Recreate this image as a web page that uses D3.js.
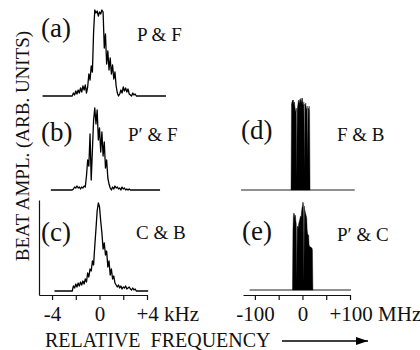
<!DOCTYPE html>
<html>
<head>
<meta charset="utf-8">
<script src="https://cdn.jsdelivr.net/npm/d3@7"></script>
<style>
  body { margin: 0; background: #fff; }
  .axis path, .axis line { stroke: #111; stroke-width: 1.2; }
</style>
</head>
<body>
<div id="chart"></div>
<script>
// Beat spectra, amplitude in arb. units (peak ~ 90)

// kHz traces (a)-(c): samples every 0.1 kHz starting at -2.3 kHz
const kHzStart = -2.3;
const kHzStep = 0.1;
const ampA = [0, 3, 1, 5, 2, 6, 3, 8, 4, 10, 6, 11, 3, 9, 22, 16, 30, 24, 64, 86,
  83, 85, 80, 84, 82, 86, 84, 48, 62, 32, 45, 26, 38, 22, 31, 17, 24, 10, 3, 0,
  2, 6, 3, 9, 5, 8, 4, 7, 2, 1, 0, 3, 1, 2, 0, 0];
const ampB = [0, 1, 3, 2, 4, 2, 3, 1, 3, 2, 4, 3, 14, 30, 24, 56, 10, 40, 70, 82,
  66, 80, 50, 62, 38, 58, 34, 48, 22, 30, 12, 6, 2, 0, 3, 1, 4, 2, 3, 1,
  2, 0, 3, 1, 2, 0, 1, 0, 1, 0, 0, 0, 0];
const ampC = [0, 5, 3, 7, 4, 8, 5, 9, 6, 10, 7, 12, 9, 18, 14, 22, 20, 30, 26, 45,
  62, 80, 88, 84, 70, 58, 42, 48, 36, 40, 24, 30, 16, 22, 12, 15, 8, 6, 4, 6,
  3, 5, 2, 4, 3, 5, 2, 3, 4, 2, 1, 3, 1, 2, 0];
// flat baseline extent of each trace (kHz)
const spanA = [-4.8, 5.6];
const spanB = [-4.1, 5.1];
const spanC = [-3.8, 4.1];

// MHz traces (d), (e): samples every 1 MHz
const mhzStep = 1;
const mhzStartD = -24;
const ampD = [0, 86, 88, 90, 89, 90, 86, 88, 84, 80, 78, 82, 12, 80, 84, 88, 90, 86, 89, 91,
  88, 92, 87, 90, 92, 86, 84, 88, 20, 86, 84, 87, 82, 80, 84, 30, 82, 80, 84, 78, 0];
const mhzStartE = -21;
const ampE = [0, 60, 74, 77, 76, 72, 75, 70, 66, 10, 62, 64, 62, 66, 68, 70, 72, 74, 72, 78,
  82, 84, 88, 86, 8, 84, 80, 78, 76, 74, 72, 60, 56, 55, 55, 45, 44, 43, 43, 43,
  42, 42, 40, 0];
const spanD = [-129, 110];
const spanE = [-111, 102];

const kHzTicks = [-4, -2, 0, 2, 4];
const kHzLabels = { "-4": "-4", "0": "0", "4": "+4 kHz" };
const mhzTicks = [-100, -50, 0, 50, 100];
const mhzLabels = { "-100": "-100", "0": "0", "100": "+100 MHz" };

const panels = [
  { id: "(a)", name: "P & F", amp: ampA, span: spanA, unit: "k", base: 96, lx: 41, ly: 37, nx: 137, ny: 41 },
  { id: "(b)", name: "P\u2032 & F", amp: ampB, span: spanB, unit: "k", base: 190, lx: 41, ly: 141, nx: 128, ny: 141 },
  { id: "(c)", name: "C & B", amp: ampC, span: spanC, unit: "k", base: 291, lx: 41, ly: 241, nx: 136, ny: 239 },
  { id: "(d)", name: "F & B", amp: ampD, span: spanD, unit: "M", start: mhzStartD, base: 190, lx: 241, ly: 139, nx: 337, ny: 141 },
  { id: "(e)", name: "P\u2032 & C", amp: ampE, span: spanE, unit: "M", start: mhzStartE, base: 290, lx: 242, ly: 240, nx: 337, ny: 241 }
];

const width = 420, height = 350;
const serif = "'Liberation Serif', 'Times New Roman', serif";

const svg = d3.select("#chart")
  .append("svg")
  .attr("width", width)
  .attr("height", height);

// all text in a Times-like face
function label(sel, size) {
  return sel.style("font-family", serif).style("font-size", size + "px").style("fill", "#111");
}

// Scales
const xk = d3.scaleLinear().domain([-5.1, 4]).range([39, 147]);
const xm = d3.scaleLinear().domain([-125, 100]).range([243, 350]);

panels.forEach(p => {
  const y = d3.scaleLinear().domain([0, 100]).range([p.base, p.base - 100]);
  if (p.unit === "k") {
    const pts = [[p.span[0], 0]];
    p.amp.forEach((v, i) => pts.push([kHzStart + i * kHzStep, v]));
    pts.push([p.span[1], 0]);
    svg.append("path")
      .datum(pts)
      .attr("fill", "none")
      .attr("stroke", "#000")
      .attr("stroke-width", 1.3)
      .attr("stroke-linejoin", "round")
      .attr("d", d3.line().x(d => xk(d[0])).y(d => y(d[1])));
  } else {
    const pts = p.amp.map((v, i) => [p.start + i * mhzStep, v]);
    // baseline
    svg.append("path")
      .datum(p.span)
      .attr("fill", "none")
      .attr("stroke", "#222")
      .attr("stroke-width", 1.2)
      .attr("d", d3.line().x(d => xm(d)).y(() => y(0)));
    svg.append("path")
      .datum(pts)
      .attr("fill", "#000")
      .attr("stroke", "#000")
      .attr("stroke-width", 0.4)
      .attr("d", d3.area().x(d => xm(d[0])).y0(y(0)).y1(d => y(d[1])));
  }

  label(svg.append("text"), 27)
    .attr("x", p.lx)
    .attr("y", p.ly)
    .text(p.id);

  label(svg.append("text"), 19)
    .attr("x", p.nx)
    .attr("y", p.ny)
    .text(p.name);
});

// Axes
const axK = svg.append("g")
  .attr("class", "axis")
  .attr("transform", "translate(0,295)")
  .call(d3.axisBottom(xk).tickValues(kHzTicks).tickSize(5).tickSizeOuter(0)
    .tickFormat(d => kHzLabels[d] || ""));

const axM = svg.append("g")
  .attr("class", "axis")
  .attr("transform", "translate(0,295)")
  .call(d3.axisBottom(xm).tickValues(mhzTicks).tickSize(5).tickSizeOuter(0)
    .tickFormat(d => mhzLabels[d] || ""));

[axK, axM].forEach(ax => {
  label(ax.selectAll("text"), 21).attr("dy", "0.85em");
  // keep the number centred on its tick, unit text trailing
  ax.selectAll("text").filter(function () { return this.textContent.indexOf("Hz") >= 0; })
    .attr("text-anchor", "start")
    .attr("dx", function () { return this.textContent.startsWith("+100") ? "-21px" : "-11px"; });
});

svg.append("g")
  .attr("class", "axis")
  .attr("transform", "translate(39,0)")
  .call(d3.axisLeft(d3.scaleLinear().domain([0, 1]).range([295, 200])).tickValues([]).tickSizeOuter(0));

// Axis titles
label(svg.append("text"), 19)
  .attr("transform", "translate(29,146) rotate(-90)")
  .attr("text-anchor", "middle")
  .text("BEAT AMPL. (ARB. UNITS)");

label(svg.append("text"), 20)
  .attr("x", 45)
  .attr("y", 347)
  .style("white-space", "pre")
  .text("RELATIVE  FREQUENCY");

svg.append("defs").append("marker")
  .attr("id", "arrow")
  .attr("viewBox", "0 0 12 8")
  .attr("refX", 12)
  .attr("refY", 4)
  .attr("markerWidth", 12)
  .attr("markerHeight", 8)
  .attr("markerUnits", "userSpaceOnUse")
  .attr("orient", "auto")
  .append("path")
  .attr("d", "M0,0 L12,4 L0,8 Z")
  .attr("fill", "#000");

svg.append("line")
  .attr("x1", 282).attr("x2", 368)
  .attr("y1", 341).attr("y2", 341)
  .attr("stroke", "#000")
  .attr("stroke-width", 1.5)
  .attr("marker-end", "url(#arrow)");
</script>
</body>
</html>
